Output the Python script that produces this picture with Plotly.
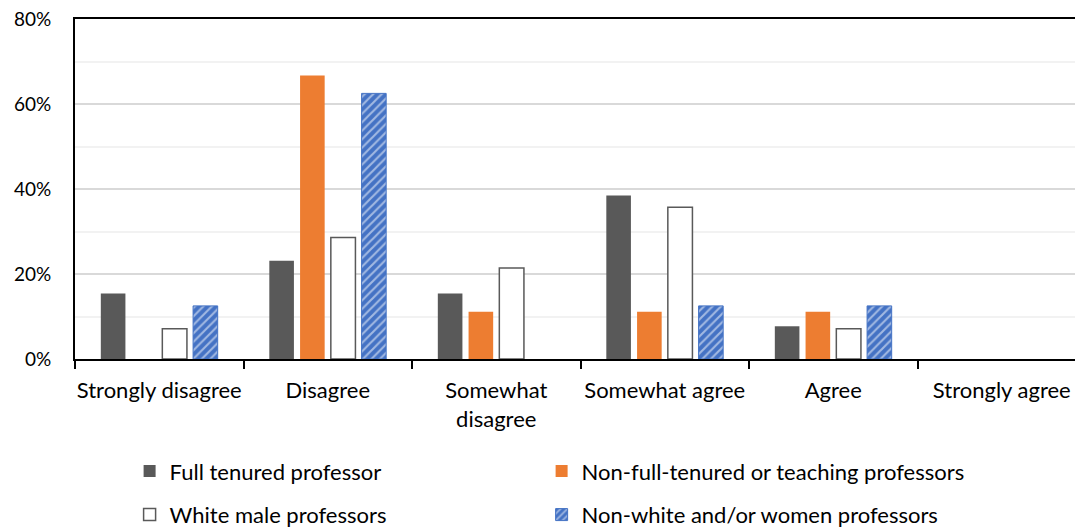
import plotly.graph_objects as go

categories = ["Strongly disagree", "Disagree", "Somewhat<br>disagree", "Somewhat agree", "Agree", "Strongly agree"]
full_tenured = [0.154, 0.231, 0.154, 0.385, 0.077, 0.0]
non_full = [0.0, 0.667, 0.111, 0.111, 0.111, 0.0]
white_male = [0.071, 0.286, 0.214, 0.357, 0.071, 0.0]
non_white = [0.125, 0.625, 0.0, 0.125, 0.125, 0.0]
y_ticks = [0, 0.2, 0.4, 0.6, 0.8]

FONT = "Lato, 'Open Sans', sans-serif"


def nz(vals):
    # zero-height bars are not drawn (avoid stray outlines on the baseline)
    return [v if v > 0 else None for v in vals]


fig = go.Figure()
fig.add_trace(go.Bar(x=categories, y=nz(full_tenured), name="Full tenured professor",
                     marker=dict(color="#595959", line=dict(width=0)), legend="legend"))
fig.add_trace(go.Bar(x=categories, y=nz(non_full), name="Non-full-tenured or teaching professors",
                     marker=dict(color="#ED7D31", line=dict(width=0)), legend="legend2"))
fig.add_trace(go.Bar(x=categories, y=nz(white_male), name="White male professors",
                     marker=dict(color="#FFFFFF", line=dict(color="#595959", width=1.5)), legend="legend3"))
fig.add_trace(go.Bar(x=categories, y=nz(non_white), name="Non-white and/or women professors",
                     marker=dict(color="#4472C4", line=dict(color="#4472C4", width=1),
                                 pattern=dict(shape="/", fgcolor="#FFFFFF", bgcolor="#4472C4",
                                              size=6, solidity=0.35, fillmode="overlay")),
                     legend="legend4"))

legend_common = dict(orientation="h", xanchor="left", yanchor="top",
                     xref="container", yref="container", font=dict(size=22),
                     itemclick=False, itemdoubleclick=False)

# the page body adds an 8px offset on the top and left
fig.update_layout(
    width=1078, height=529,
    margin=dict(l=67, r=0, t=11, b=178),
    paper_bgcolor="white", plot_bgcolor="white",
    font=dict(family=FONT, size=22, color="#000000"),
    barmode="group", bargap=0.27, bargroupgap=0.2,
    showlegend=True,
    legend=dict(x=0.1128, y=0.164, **legend_common),
    legend2=dict(x=0.495, y=0.164, **legend_common),
    legend3=dict(x=0.1128, y=0.0817, **legend_common),
    legend4=dict(x=0.495, y=0.0817, **legend_common),
)

fig.update_xaxes(
    range=[-0.5, 5.5], automargin=False, tickangle=0,
    showline=True, linecolor="#000000", linewidth=2, mirror=True,
    ticks="outside", tickson="boundaries", ticklen=8, tickwidth=2, tickcolor="#000000",
    tickfont=dict(size=22, family=FONT), showgrid=False, ticklabelstandoff=11,
    ticklabeloverflow="allow",
)
fig.update_yaxes(
    range=[0, 0.8], tickvals=y_ticks, tickformat=".0%", automargin=False,
    showline=True, linecolor="#000000", linewidth=2,
    showgrid=True, gridcolor="#D9D9D9", gridwidth=1.5,
    minor=dict(dtick=0.1, showgrid=True, gridcolor="#F2F2F2", gridwidth=1.5),
    ticks="", tickfont=dict(size=19, family=FONT), zeroline=False, ticklabelstandoff=18,
    ticklabeloverflow="allow",
)

fig.write_html("out.html")
